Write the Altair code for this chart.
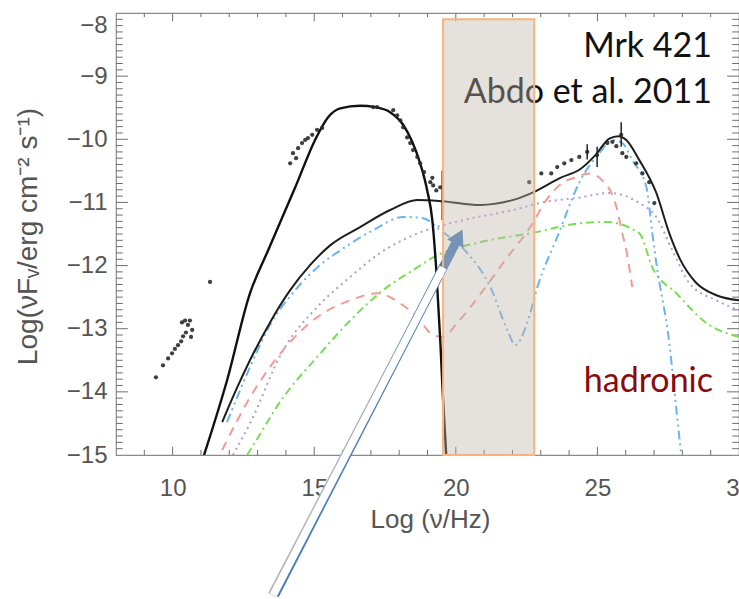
import altair as alt
import pandas as pd

# ---------------- data (log nu, log nuFnu) ----------------
sync_x = [11.11, 11.92, 12.73, 13.37, 14.33, 15.03, 15.49, 15.92, 16.62, 17.15, 17.68, 18.14, 18.46, 18.74, 18.99, 19.17, 19.31, 19.45, 19.55, 19.66]
sync_y = [-15.0, -13.82, -12.44, -11.76, -10.76, -10.01, -9.65, -9.51, -9.47, -9.49, -9.57, -9.77, -10.04, -10.38, -10.81, -11.28, -12.07, -13.18, -14.13, -15.0]

total_x = [11.75, 12.24, 12.73, 13.44, 14.15, 14.86, 15.56, 16.62, 17.68, 18.64, 19.52, 20.86, 22.03, 22.73, 23.69, 24.4, 24.93, 25.42, 25.74, 26.02, 26.48, 27.08, 27.54, 27.93, 28.46, 29.2, 30.0]
total_y = [-14.48, -13.97, -13.5, -12.9, -12.39, -11.99, -11.68, -11.39, -11.12, -10.96, -10.98, -11.04, -10.96, -10.84, -10.61, -10.47, -10.25, -9.99, -9.95, -10.01, -10.33, -10.85, -11.49, -11.91, -12.26, -12.47, -12.55]

blue_x = [11.92, 12.73, 13.44, 14.33, 15.21, 15.92, 17.08, 18.14, 18.85, 19.45, 20.4, 21.22, 21.82, 22.1, 22.52, 22.88, 23.58, 24.4, 25.07, 25.53, 25.88, 26.23, 26.73, 26.94, 27.08, 27.54, 27.79, 27.96]
blue_y = [-14.48, -13.61, -12.94, -12.39, -11.99, -11.76, -11.44, -11.23, -11.25, -11.44, -11.8, -12.34, -13.02, -13.26, -12.91, -12.34, -11.55, -10.65, -10.22, -10.01, -10.06, -10.33, -10.76, -11.49, -11.96, -13.23, -14.29, -15.0]

purple_x = [12.13, 12.73, 13.9, 15.1, 16.27, 17.33, 18.49, 20.26, 22.03, 22.95, 24.4, 25.42, 26.48, 27.08, 27.65, 28.25, 29.2, 30.0]
purple_y = [-15.0, -14.5, -13.34, -12.66, -12.18, -11.8, -11.52, -11.28, -11.12, -11.01, -10.92, -10.85, -11.01, -11.23, -11.76, -12.28, -12.55, -12.71]

green_x = [12.63, 12.73, 13.9, 15.1, 16.27, 17.43, 18.64, 19.2, 20.86, 22.63, 24.4, 25.31, 26.48, 26.94, 27.79, 28.85, 30.0]
green_y = [-15.0, -14.93, -14.09, -13.45, -12.87, -12.39, -12.03, -11.87, -11.63, -11.49, -11.33, -11.31, -11.49, -12.03, -12.44, -12.91, -13.13]

red_x = [11.75, 12.73, 13.9, 15.1, 16.27, 17.22, 18.04, 18.64, 19.2, 19.55, 20.05, 20.97, 21.75, 22.63, 23.2, 23.8, 24.25, 24.71, 25.17, 25.67, 25.88, 26.02, 26.23]
red_y = [-14.92, -14.09, -13.34, -12.82, -12.55, -12.44, -12.6, -12.82, -13.1, -13.13, -12.91, -12.39, -11.91, -11.39, -10.96, -10.68, -10.6, -10.54, -10.65, -11.07, -11.49, -11.76, -12.34]

# observed points
pt_x = [9.41, 9.66, 9.84, 9.98, 10.08, 10.19, 10.30, 10.37, 10.47, 10.54, 10.44, 10.61, 10.69, 10.65, 10.33, 11.32,
        14.15, 14.25, 14.36, 14.43, 14.57, 14.68, 14.78, 14.93, 15.10, 15.28,
        17.08, 17.22, 17.79, 17.93, 18.04, 18.14, 18.28, 18.39, 18.49, 18.64, 18.74, 18.88, 19.10, 19.17, 19.20, 19.31, 19.45,
        22.59, 23.02, 23.37, 23.58, 23.83, 24.08, 24.36, 24.64, 24.99, 25.35, 25.53, 25.67, 25.84, 25.88, 26.02, 26.37, 26.59, 26.83, 27.01]
pt_y = [-13.77, -13.58, -13.47, -13.39, -13.32, -13.26, -13.2, -13.12, -13.06, -12.94, -12.87, -12.87, -13.02, -13.13, -12.9, -12.26,
        -10.38, -10.22, -10.30, -10.14, -10.06, -10.01, -9.98, -9.93, -9.85, -9.82,
        -9.49, -9.49, -9.54, -9.62, -9.70, -9.81, -9.97, -10.06, -10.17, -10.28, -10.38, -10.52, -10.68, -10.61, -10.73, -10.81, -10.76,
        -10.68, -10.54, -10.54, -10.44, -10.38, -10.33, -10.28, -10.2, -10.25, -10.06, -10.04, -10.11, -9.93, -10.22, -10.28, -10.38, -10.54, -10.68, -11.01]

err_x = [19.52, 24.64, 24.99, 25.84]
err_lo = [-11.28, -10.32, -10.44, -10.12]
err_hi = [-10.5, -10.08, -10.12, -9.73]

# highlighted band and annotation arrow
band_x = [19.55]
band_x2 = [22.77]
band_y = [-15.0]
band_y2 = [-8.1]

arrow_x = [13.55, 20.11]
arrow_y = [-17.22, -11.54]
arrow_white_x = [13.55, 19.55]
arrow_white_y = [-17.22, -12.03]
head_x = [20.11]
head_y = [-11.54]

x_major = [10, 15, 20, 25]
x_minor = [v for v in range(9, 30) if v % 5 != 0]
y_major = [-9, -10, -11, -12, -13, -14]
y_minor = [round(-15 + k * 0.1, 1) for k in range(1, 70) if k % 10 != 0]

# ---------------- chart ----------------
XS = alt.Scale(domain=[8, 30], nice=False, zero=False)
YS = alt.Scale(domain=[-15, -8], nice=False, zero=False)
FONT = "Liberation Sans"
GRAY = "#555555"

XAX = alt.Axis(
    values=[10, 15, 20, 25, 30], ticks=False, tickSize=0, domain=False, grid=False,
    labelFont=FONT, labelFontSize=24, labelColor=GRAY, labelPadding=40,
    labelBaseline="alphabetic", labelFlush=False, labelOverlap=False,
    title="Log (ν/Hz)", titleFont=FONT, titleFontSize=26, titleFontWeight="normal",
    titleColor=GRAY, titleX=314, titleY=72, titleBaseline="alphabetic", titleAlign="center")
YAX = alt.Axis(
    values=[-8, -9, -10, -11, -12, -13, -14, -15], ticks=False, tickSize=0, domain=False, grid=False,
    labelFont=FONT, labelFontSize=24, labelColor=GRAY, labelPadding=9, labelFlush=False,
    labelOverlap=False,
    labelBaseline={"condition": {"test": "datum.value == -8", "value": "top"}, "value": "middle"},
    title="Log(νFᵥ/erg cm⁻² s⁻¹)", titleFont=FONT, titleFontSize=28, titleFontWeight="normal",
    titleColor=GRAY, titleX=-80, titleY=223, titleBaseline="alphabetic", titleAlign="center", titleAngle=270)


def X(f="x"):
    return alt.X(f"{f}:Q", scale=XS, axis=XAX)


def Y(f="y"):
    return alt.Y(f"{f}:Q", scale=YS, axis=YAX)


def curve(xs, ys, color, width, dash=None):
    d = pd.DataFrame({"x": xs, "y": ys, "o": list(range(len(xs)))})
    kw = dict(color=color, strokeWidth=width, clip=True, interpolate="monotone")
    if dash:
        kw["strokeDash"] = dash
    return alt.Chart(d).mark_line(**kw).encode(x=X(), y=Y(), order="o:Q")


def seg(xs, ys, color, width, off):
    d = pd.DataFrame({"x": [xs[0]], "x2": [xs[1]], "y": [ys[0]], "y2": [ys[1]]})
    return alt.Chart(d).mark_rule(color=color, strokeWidth=width, clip=False, xOffset=off,
                                  strokeCap="butt").encode(x=X(), x2="x2:Q", y=Y(), y2="y2:Q")


# tick marks (inward, IDL style)
rows = []
for v in x_major:
    rows.append((v, v, -15, -15 + 0.13))
    rows.append((v, v, -8, -8 - 0.13))
for v in x_minor:
    rows.append((v, v, -15, -15 + 0.08))
    rows.append((v, v, -8, -8 - 0.065))
for v in y_major:
    rows.append((8, 8 + 0.42, v, v))
    rows.append((30, 30 - 0.42, v, v))
for v in y_minor:
    rows.append((8, 8 + 0.24, v, v))
    rows.append((30, 30 - 0.24, v, v))
ticks_df = pd.DataFrame(rows, columns=["x", "x2", "y", "y2"])
ticks = alt.Chart(ticks_df).mark_rule(color="#6e6e6e", strokeWidth=1).encode(
    x=X(), x2="x2:Q", y=Y(), y2="y2:Q")

blue = curve(blue_x, blue_y, "#6cb4ee", 2, [9, 4, 2, 4, 2, 4])
purple = curve(purple_x, purple_y, "#b49ad8", 2, [2, 4])
green = curve(green_x, green_y, "#79dd58", 2, [8, 4, 2, 4])
red = curve(red_x, red_y, "#f39a95", 2, [9, 7])
total = curve(total_x, total_y, "#1e1e1e", 2.0)
sync = curve(sync_x, sync_y, "#111111", 2.4)

pts = alt.Chart(pd.DataFrame({"x": pt_x, "y": pt_y})).mark_point(
    filled=True, color="#2a2a2a", size=18, opacity=0.9).encode(x=X(), y=Y())

errs = alt.Chart(pd.DataFrame({"x": err_x, "lo": err_lo, "hi": err_hi})).mark_rule(
    color="#222222", strokeWidth=1.5).encode(x=X(), y=Y("lo"), y2="hi:Q")

t_mrk = alt.Chart(pd.DataFrame({"t": ["Mrk 421"]})).mark_text(
    font="Lato", fontSize=34, color="#111111", align="right", baseline="alphabetic").encode(
    text="t:N", x=alt.value(596), y=alt.value(44))
t_abdo = alt.Chart(pd.DataFrame({"t": ["Abdo et al. 2011"]})).mark_text(
    font="Lato", fontSize=34, color="#111111", align="right", baseline="alphabetic").encode(
    text="t:N", x=alt.value(596), y=alt.value(90))
t_had = alt.Chart(pd.DataFrame({"t": ["hadronic"]})).mark_text(
    font="Lato", fontSize=34, color="#8b0a0a", align="right", baseline="alphabetic").encode(
    text="t:N", x=alt.value(597), y=alt.value(379))

arrow_gray = seg(arrow_white_x, arrow_white_y, "#b5b5b5", 9, -1.0)
arrow_blue = seg(arrow_x, arrow_y, "#4a7ebb", 9, 1.5)
arrow_white = seg(arrow_white_x, arrow_white_y, "#ffffff", 7.5, 0.0)
head = alt.Chart(pd.DataFrame({"x": head_x, "y": head_y})).mark_point(
    shape="triangle-up", filled=True, color="#4a7ebb", opacity=1, size=330, angle=27).encode(
    x=X(), y=Y())

band = alt.Chart(pd.DataFrame({"x": band_x, "x2": band_x2, "y": band_y, "y2": band_y2})).mark_rect(
    fill="#bfb5ab", fillOpacity=0.4, stroke="#f6b47e", strokeOpacity=1, strokeWidth=2).encode(
    x=X(), x2="x2:Q", y=Y(), y2="y2:Q")

chart = alt.layer(
    ticks, purple, green, red, blue, total, sync, pts, errs,
    t_mrk, t_abdo, t_had, arrow_gray, arrow_blue, head, band, arrow_white,
).properties(
    width=623, height=442,
    autosize=alt.AutoSizeParams(type="none"),
    padding={"left": 116, "top": 13, "right": 0, "bottom": 144},
    background="white",
).configure_view(stroke="#8a8a8a", strokeWidth=1.2)

chart.save("out.html", embed_options={"renderer": "svg", "actions": False})
